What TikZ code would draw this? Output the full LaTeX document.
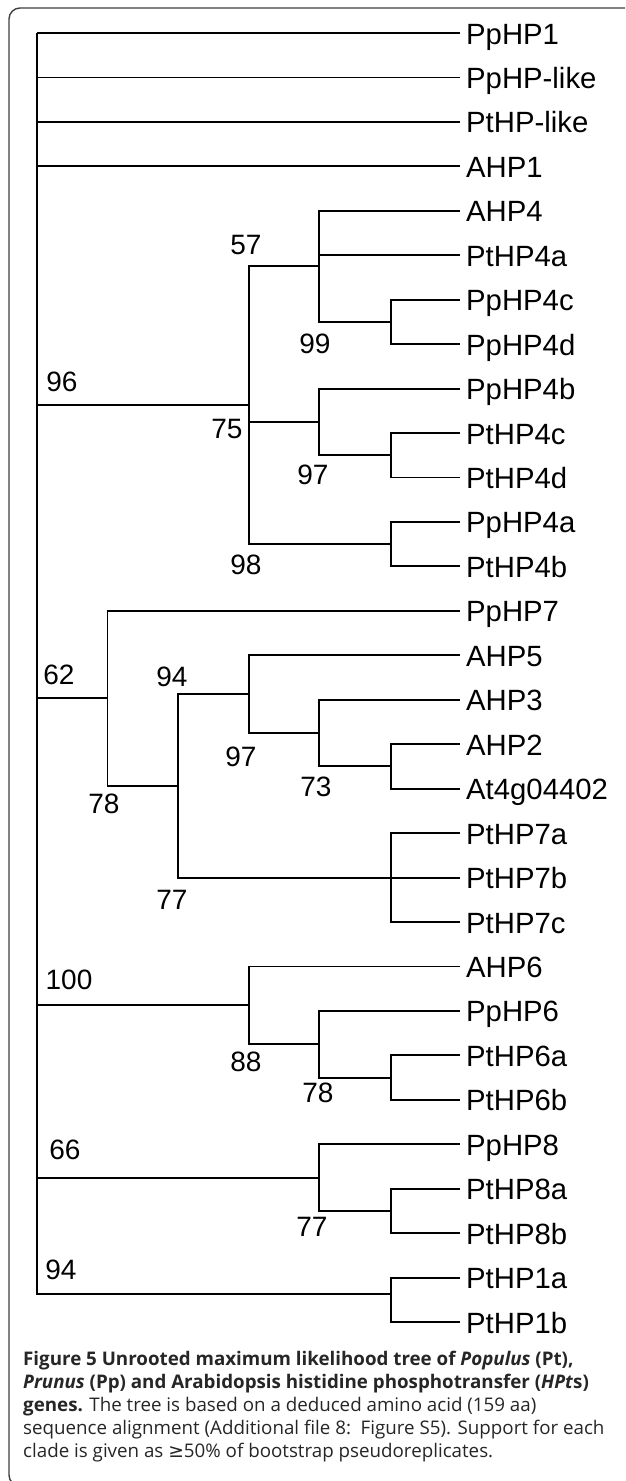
\documentclass[tikz,border=0pt]{standalone}
\usepackage{fontspec}
\setmainfont{Liberation Sans}
\newfontfamily\capfont{Open Sans}
\newfontfamily\symfnt{DejaVu Sans}
\begin{document}
\begin{tikzpicture}[x=1pt,y=-1pt,
  branch/.style={line width=1.9pt, black},
  leaf/.style={anchor=base west, inner sep=0pt, xshift=6pt, yshift=-11pt, font=\fontsize{29.3}{30}\selectfont},
  boot/.style={anchor=center, inner sep=0pt, font=\fontsize{28}{30}\selectfont},
  capline/.style={anchor=base west, inner sep=0pt, font=\capfont\fontsize{18.75}{23}\selectfont, text=black!85}]
\useasboundingbox (0,0) rectangle (625,1481);
\clip (0,0) rectangle (625,1481);
\fill[white] (0,0) rectangle (625,1481);
\draw[line width=1.4pt, black!75, rounded corners=11pt] (9,8) rectangle (700,1486);
% leaves
\foreach \i/\t in {0/PpHP1,1/PpHP-like,2/PtHP-like,3/AHP1,4/AHP4,5/PtHP4a,6/PpHP4c,7/PpHP4d,
  8/PpHP4b,9/PtHP4c,10/PtHP4d,11/PpHP4a,12/PtHP4b,13/PpHP7,14/AHP5,15/AHP3,16/AHP2,
  17/At4g04402,18/PtHP7a,19/PtHP7b,20/PtHP7c,21/AHP6,22/PpHP6,23/PtHP6a,24/PtHP6b,
  25/PpHP8,26/PtHP8a,27/PtHP8b,28/PtHP1a,29/PtHP1b}{
  \coordinate (t\i) at (460,{33+44.45*\i});
  \node[leaf] (n\i) at (t\i) {\t};
}
% internal nodes
\coordinate (r) at (37,33);
\coordinate (a75) at (249,{33+44.45*8.375});
\coordinate (a57) at (319,{33+44.45*5.25});
\coordinate (a99) at (391,{33+44.45*6.5});
\coordinate (aB) at (319,{33+44.45*8.75});
\coordinate (a97) at (391,{33+44.45*9.5});
\coordinate (a98) at (391,{33+44.45*11.5});
\coordinate (a62) at (107.5,{33+44.45*14.96875});
\coordinate (a78) at (178,{33+44.45*16.9375});
\coordinate (a94) at (249,{33+44.45*14.875});
\coordinate (a73) at (319,{33+44.45*15.75});
\coordinate (a2) at (391,{33+44.45*16.5});
\coordinate (a7) at (391,{33+44.45*19});
\coordinate (a100) at (249,{33+44.45*21.875});
\coordinate (a88) at (319,{33+44.45*22.75});
\coordinate (a78b) at (391,{33+44.45*23.5});
\coordinate (a66) at (319,{33+44.45*25.75});
\coordinate (a77b) at (391,{33+44.45*26.5});
\coordinate (a1) at (391,1294);
% branches
\begin{scope}[branch]
\foreach \c in {t0,t1,t2,t3,a75,a62,a100,a66,a1} \draw (r) |- (\c);
\foreach \c in {a57,aB,a98} \draw (a75) |- (\c);
\foreach \c in {t4,t5,a99} \draw (a57) |- (\c);
\foreach \c in {t6,t7} \draw (a99) |- (\c);
\foreach \c in {t8,a97} \draw (aB) |- (\c);
\foreach \c in {t9,t10} \draw (a97) |- (\c);
\foreach \c in {t11,t12} \draw (a98) |- (\c);
\foreach \c in {t13,a78} \draw (a62) |- (\c);
\foreach \c in {a94,a7} \draw (a78) |- (\c);
\foreach \c in {t14,a73} \draw (a94) |- (\c);
\foreach \c in {t15,a2} \draw (a73) |- (\c);
\foreach \c in {t16,t17} \draw (a2) |- (\c);
\foreach \c in {t18,t19,t20} \draw (a7) |- (\c);
\foreach \c in {t21,a88} \draw (a100) |- (\c);
\foreach \c in {t22,a78b} \draw (a88) |- (\c);
\foreach \c in {t23,t24} \draw (a78b) |- (\c);
\foreach \c in {t25,a77b} \draw (a66) |- (\c);
\foreach \c in {t26,t27} \draw (a77b) |- (\c);
\foreach \c in {t28,t29} \draw (a1) |- (\c);
\end{scope}
% bootstrap values
\node[boot] (b57) at (246,245) {57};
\node[boot] (b99) at (315,344) {99};
\node[boot] (b96) at (62,382) {96};
\node[boot] (b75) at (227,429) {75};
\node[boot] (b97a) at (313,475) {97};
\node[boot] (b98) at (246,565) {98};
\node[boot] (b62) at (59,675) {62};
\node[boot] (b94a) at (172,677) {94};
\node[boot] (b97b) at (241,757) {97};
\node[boot] (b73) at (316,787) {73};
\node[boot] (b78a) at (104,804) {78};
\node[boot] (b77a) at (172,900) {77};
\node[boot] (b100) at (69,980) {100};
\node[boot] (b88) at (246,1062) {88};
\node[boot] (b78b) at (318,1093) {78};
\node[boot] (b66) at (65,1150) {66};
\node[boot] (b77b) at (312,1227) {77};
\node[boot] (b94b) at (61,1270) {94};
% caption
\node[capline] (c1) at (23,1365) {\textbf{Figure 5 Unrooted maximum likelihood tree of \textit{Populus} (Pt),}};
\node[capline] (c2) at (23,1388) {\textbf{\textit{Prunus} (Pp) and Arabidopsis histidine phosphotransfer (\textit{HPt}s)}};
\node[capline] (c3) at (23,1411) {\textbf{genes.} The tree is based on a deduced amino acid (159 aa)};
\node[capline] (c4) at (23,1434) {sequence alignment (Additional file 8:\ \ Figure S5). Support for each};
\node[capline] (c5) at (23,1457) {clade is given as {\symfnt ≥}50\% of bootstrap pseudoreplicates.};
\end{tikzpicture}
\end{document}
